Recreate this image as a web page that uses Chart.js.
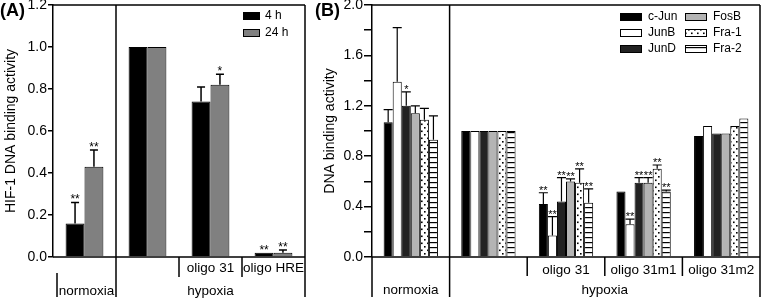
<!DOCTYPE html>
<html><head><meta charset="utf-8">
<script src="https://cdn.jsdelivr.net/npm/chart.js@4"></script>
<style>
body{margin:0;background:#fff;width:761px;height:300px;overflow:hidden;position:relative}
canvas{position:absolute;top:0}
</style></head>
<body>
<canvas id="ca" width="315" height="300" style="left:0"></canvas>
<canvas id="cb" width="446" height="300" style="left:315px"></canvas>
<script>
// ---------- Panel A data ----------
const catsA = ['normoxia', 'hypoxia', 'oligo 31', 'oligo HRE'];
const rowTopA = ['', '', 'oligo 31', 'oligo HRE'];
const groupA = ['normoxia', 'hypoxia'];
const seriesA = ['4 h', '24 h'];
const valsA4 = [0.16, 1.0, 0.74, 0.02];
const errA4 = [0.10, 0, 0.07, 0];
const starA4 = ['**', '', '', '**'];
const valsA24 = [0.43, 1.0, 0.82, 0.02];
const errA24 = [0.08, 0, 0.05, 0.013];
const starA24 = ['**', '', '*', '**'];
const tickValsA = [0, 0.2, 0.4, 0.6, 0.8, 1.0, 1.2];
const tickLabsA = ['0.0', '0.2', '0.4', '0.6', '0.8', '1.0', '1.2'];
const titleA = 'HIF-1 DNA binding activity';

// ---------- Panel B data ----------
const catsB = ['normoxia', 'hypoxia', 'oligo 31', 'oligo 31m1', 'oligo 31m2'];
const rowTopB = ['', '', 'oligo 31', 'oligo 31m1', 'oligo 31m2'];
const groupB = ['normoxia', 'hypoxia'];
const seriesB = ['c-Jun', 'JunB', 'JunD', 'FosB', 'Fra-1', 'Fra-2'];
const cJun = [1.07, 1.0, 0.42, 0.52, 0.96];
const cJunErr = [0.10, 0, 0.09, 0, 0];
const cJunStar = ['', '', '**', '', ''];
const junB = [1.39, 1.0, 0.17, 0.26, 1.04];
const junBErr = [0.43, 0, 0.15, 0.04, 0];
const junBStar = ['', '', '**', '**', ''];
const junD = [1.20, 1.0, 0.44, 0.59, 0.98];
const junDErr = [0.11, 0, 0.19, 0.04, 0];
const junDStar = ['*', '', '**', '**', ''];
const fosB = [1.14, 1.0, 0.60, 0.59, 0.98];
const fosBErr = [0.06, 0, 0.02, 0.04, 0];
const fosBStar = ['', '', '**', '**', ''];
const fra1 = [1.09, 1.0, 0.59, 0.70, 1.04];
const fra1Err = [0.09, 0, 0.11, 0.03, 0];
const fra1Star = ['', '', '**', '**', ''];
const fra2 = [0.93, 1.0, 0.43, 0.52, 1.10];
const fra2Err = [0.19, 0, 0.11, 0.01, 0];
const fra2Star = ['', '', '**', '**', ''];
const tickValsB = [0, 0.2, 0.4, 0.6, 0.8, 1.0, 1.2, 1.4, 1.6, 1.8, 2.0];
const tickLabsB = ['0.0', '', '0.4', '', '0.8', '', '1.2', '', '1.6', '', '2.0'];
const titleB = 'DNA binding activity';

const FONT = "'Liberation Sans', Arial, sans-serif";

// ---------- patterns ----------
function dotPattern(ctx) {
  const t = document.createElement('canvas'); t.width = 6; t.height = 7;
  const g = t.getContext('2d');
  g.fillStyle = '#fff'; g.fillRect(0, 0, 6, 7);
  g.fillStyle = '#000';
  g.fillRect(1, 1, 1.6, 1.6); g.fillRect(4, 4.5, 1.6, 1.6);
  return ctx.createPattern(t, 'repeat');
}
function stripePattern(ctx) {
  const t = document.createElement('canvas'); t.width = 4; t.height = 5;
  const g = t.getContext('2d');
  g.fillStyle = '#fff'; g.fillRect(0, 0, 4, 5);
  g.fillStyle = '#000'; g.fillRect(0, 2, 4, 1.2);
  return ctx.createPattern(t, 'repeat');
}

// ---------- decoration plugin ----------
function decoPlugin(cfg) {
  return {
    id: 'deco',
    afterDatasetsDraw(chart) {
      const ctx = chart.ctx, ys = chart.scales.y;
      ctx.save();
      ctx.strokeStyle = '#000'; ctx.fillStyle = '#000';
      ctx.lineWidth = cfg.errLW;
      ctx.font = cfg.starFont; ctx.textAlign = 'center'; ctx.textBaseline = 'alphabetic';
      chart.data.datasets.forEach((ds, di) => {
        const meta = chart.getDatasetMeta(di);
        meta.data.forEach((el, i) => {
          const e = ds.err[i], v = ds.data[i];
          let topY = el.y;
          if (e > 0) {
            const cy = ys.getPixelForValue(v + e);
            const cw = cfg.capW || el.width;
            ctx.beginPath();
            ctx.moveTo(el.x, el.y); ctx.lineTo(el.x, cy);
            ctx.moveTo(el.x - cw / 2, cy); ctx.lineTo(el.x + cw / 2, cy);
            ctx.stroke();
            topY = cy;
          }
          if (ds.stars[i]) ctx.fillText(ds.stars[i], el.x, topY + 1);
        });
      });
      ctx.restore();
    },
    afterDraw(chart) {
      const ctx = chart.ctx, xs = chart.scales.x;
      const a = chart.chartArea;
      const px = i => xs.getPixelForValue(i);
      const bnd = i => (px(i) + px(i + 1)) / 2;
      ctx.save();
      ctx.strokeStyle = '#000'; ctx.lineWidth = 1.5;
      const line = (x1, y1, x2, y2) => { ctx.beginPath(); ctx.moveTo(x1, y1); ctx.lineTo(x2, y2); ctx.stroke(); };
      line(a.left, a.bottom, a.right, a.bottom);
      line(a.left, a.top, a.right, a.top);
      line(a.right, a.top, a.right, cfg.bottomY);
      const sep = bnd(0);
      line(sep, a.top, sep, cfg.bottomY);
      for (let i = 1; i < cfg.rowTop.length - 1; i++) {
        const b = bnd(i);
        line(b, a.bottom, b, cfg.rowY);
      }
      line(a.left + cfg.leftOff, cfg.leftTop, a.left + cfg.leftOff, cfg.bottomY);
      // labels
      ctx.fillStyle = '#000';
      ctx.font = '13.5px ' + FONT; ctx.textAlign = 'center'; ctx.textBaseline = 'middle';
      cfg.rowTop.forEach((t, i) => { if (t) ctx.fillText(t, px(i), cfg.row1Y); });
      ctx.fillText(cfg.groups[0], (a.left + cfg.leftOff + sep) / 2, cfg.row2Y);
      ctx.fillText(cfg.groups[1], (sep + a.right) / 2, cfg.row2Y);
      // panel tag
      ctx.font = 'bold 18px ' + FONT; ctx.textAlign = 'left'; ctx.textBaseline = 'alphabetic';
      ctx.fillText(cfg.tag, cfg.tagX, 16);
      // legend
      ctx.font = '12px ' + FONT; ctx.textBaseline = 'middle'; ctx.lineWidth = 1;
      cfg.legend.forEach(L => {
        const ds = chart.data.datasets[L.ds];
        const bx = a.right + L.bx, by = L.y - L.h / 2;
        ctx.fillStyle = ds.backgroundColor;
        ctx.fillRect(bx, by, L.w, L.h);
        ctx.strokeRect(bx + 0.5, by + 0.5, L.w - 1, L.h - 1);
        ctx.fillStyle = '#000';
        ctx.fillText(ds.label, a.right + L.tx, L.y);
      });
      ctx.restore();
    }
  };
}

function yScale(width, max, tickVals, tickLabs, tickLen, title, titlePad) {
  return {
    min: 0, max: max,
    afterBuildTicks: s => { s.ticks = tickVals.map(v => ({ value: v })); },
    afterFit: s => { s.width = width; s.paddingTop = 0; s.paddingBottom = 0; },
    ticks: {
      color: '#000', padding: 1,
      font: { family: FONT, size: 14 },
      callback: (v, i) => tickLabs[i]
    },
    grid: { drawOnChartArea: false, drawTicks: true, tickLength: tickLen, color: '#000', lineWidth: 1.5 },
    border: { display: true, color: '#000', width: 1.5 },
    title: { display: true, text: title, color: '#000', font: { family: FONT, size: 14 }, padding: { top: titlePad, bottom: 0 } }
  };
}

// ---------- Chart A ----------
const ctxA = document.getElementById('ca').getContext('2d');
new Chart(ctxA, {
  type: 'bar',
  data: {
    labels: catsA,
    datasets: [
      { label: seriesA[0], data: valsA4, err: errA4, stars: starA4, backgroundColor: '#000000', borderColor: '#000', borderWidth: 1 },
      { label: seriesA[1], data: valsA24, err: errA24, stars: starA24, backgroundColor: '#808080', borderColor: '#000', borderWidth: 1 }
    ]
  },
  options: {
    responsive: false, animation: false, devicePixelRatio: 1,
    layout: { padding: { left: 0, right: 10, top: 5, bottom: 43 } },
    categoryPercentage: 0.6, barPercentage: 1.0,
    plugins: { legend: { display: false }, tooltip: { enabled: false } },
    scales: {
      x: { display: false },
      y: yScale(53, 1.2, tickValsA, tickLabsA, 5, titleA, 2.5)
    }
  },
  plugins: [decoPlugin({
    errLW: 1.5, capW: 8, starFont: '12px ' + FONT,
    rowTop: rowTopA, groups: groupA, bottomY: 297, rowY: 277, leftOff: 4, leftTop: 273,
    row1Y: 268, row2Y: 291, tag: '(A)', tagX: 0,
    legend: [
      { ds: 0, bx: -62, tx: -40, y: 16, w: 17, h: 8 },
      { ds: 1, bx: -62, tx: -40, y: 33, w: 17, h: 8 }
    ]
  })]
});

// ---------- Chart B ----------
const ctxB = document.getElementById('cb').getContext('2d');
const dots = dotPattern(ctxB), stripes = stripePattern(ctxB);
const bDefs = [
  [seriesB[0], cJun, cJunErr, cJunStar, '#000000'],
  [seriesB[1], junB, junBErr, junBStar, '#ffffff'],
  [seriesB[2], junD, junDErr, junDStar, '#222222'],
  [seriesB[3], fosB, fosBErr, fosBStar, '#b4b4b4'],
  [seriesB[4], fra1, fra1Err, fra1Star, dots],
  [seriesB[5], fra2, fra2Err, fra2Star, stripes]
];
new Chart(ctxB, {
  type: 'bar',
  data: {
    labels: catsB,
    datasets: bDefs.map(d => ({ label: d[0], data: d[1], err: d[2], stars: d[3], backgroundColor: d[4], borderColor: '#000', borderWidth: 1 }))
  },
  options: {
    responsive: false, animation: false, devicePixelRatio: 1,
    layout: { padding: { left: 0, right: 1, top: 5, bottom: 43 } },
    categoryPercentage: 0.7, barPercentage: 1.0,
    plugins: { legend: { display: false }, tooltip: { enabled: false } },
    scales: {
      x: { display: false },
      y: yScale(57, 2.0, tickValsB, tickLabsB, 8, titleB, 6.6)
    }
  },
  plugins: [decoPlugin({
    errLW: 1.2, capW: 0, starFont: '11px ' + FONT,
    rowTop: rowTopB, groups: groupB, bottomY: 297, rowY: 276, leftOff: 0, leftTop: 257,
    row1Y: 270, row2Y: 290, tag: '(B)', tagX: 0,
    legend: [
      { ds: 0, bx: -140, tx: -112, y: 17, w: 22, h: 8 },
      { ds: 1, bx: -140, tx: -112, y: 33, w: 22, h: 8 },
      { ds: 2, bx: -140, tx: -112, y: 49, w: 22, h: 8 },
      { ds: 3, bx: -75, tx: -47, y: 17, w: 22, h: 8 },
      { ds: 4, bx: -75, tx: -47, y: 33, w: 22, h: 8 },
      { ds: 5, bx: -75, tx: -47, y: 49, w: 22, h: 8 }
    ]
  })]
});
</script>
</body></html>
